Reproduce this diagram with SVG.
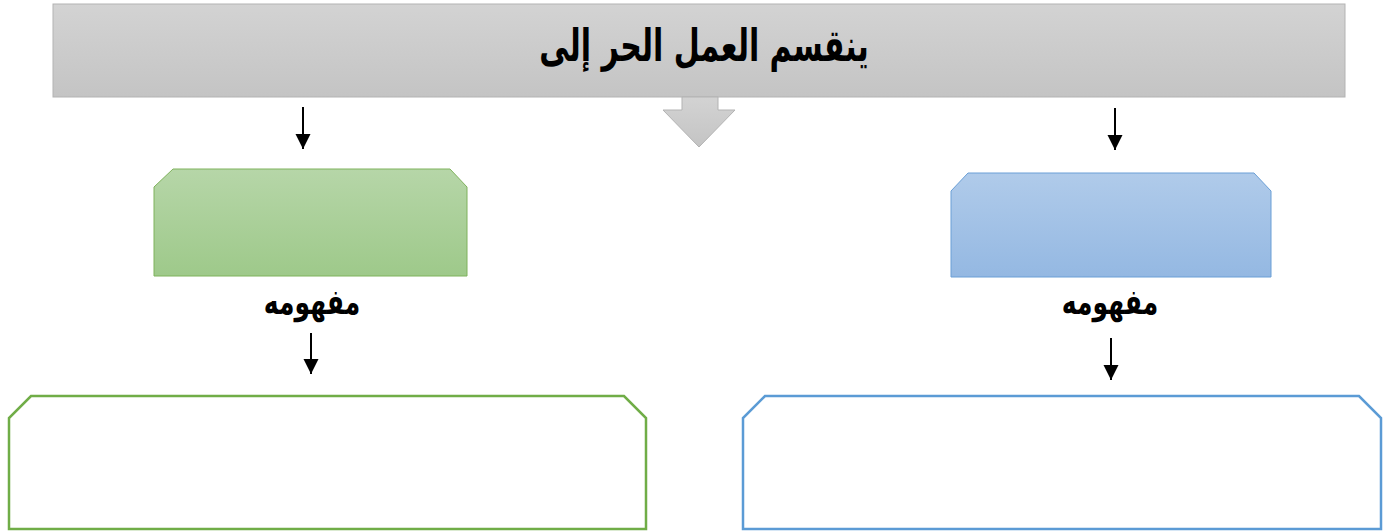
<svg xmlns="http://www.w3.org/2000/svg" width="1390" height="531" viewBox="0 0 1390 531">
<defs>
<linearGradient id="gGray" x1="0" y1="0" x2="0" y2="1"><stop offset="0" stop-color="#d3d3d3"/><stop offset="1" stop-color="#c4c4c4"/></linearGradient>
<linearGradient id="gGreen" x1="0" y1="0" x2="0" y2="1"><stop offset="0" stop-color="#b6d6a8"/><stop offset="1" stop-color="#9ec98a"/></linearGradient>
<linearGradient id="gBlue" x1="0" y1="0" x2="0" y2="1"><stop offset="0" stop-color="#b0cbea"/><stop offset="1" stop-color="#94b8e2"/></linearGradient>
<marker id="ah" viewBox="0 0 10 10" refX="10" refY="5" markerWidth="15" markerHeight="16" markerUnits="userSpaceOnUse" orient="auto"><path d="M0,0 L10,5 L0,10 Z" fill="#000"/></marker>
</defs>
<style>
.lbl{font-family:"DejaVu Sans",sans-serif;font-weight:bold;fill:#000;text-anchor:middle}
.conn{stroke:#000;stroke-width:2;fill:none;marker-end:url(#ah)}
</style>
<g id="title">
<rect x="53" y="4" width="1292" height="93" fill="url(#gGray)" stroke="#b3b3b3" stroke-width="1"/>
<text class="lbl" transform="translate(704,61) scale(1,1.5)" x="0" y="0" font-size="30" direction="rtl">ينقسم العمل الحر إلى</text>
</g>
<g id="bigArrow">
<path d="M682,97 L718,97 L718,110 L735,110 L699,147 L663,110 L682,110 Z" fill="url(#gGray)" stroke="#b3b3b3" stroke-width="1"/>
</g>
<g id="greenTop">
<path d="M173,169 L450,169 L467,187 L467,276 L154,276 L154,187 Z" fill="url(#gGreen)" stroke="#7fb25c" stroke-width="1"/>
</g>
<g id="blueTop">
<path d="M968,173 L1254,173 L1271,191 L1271,277 L951,277 L951,191 Z" fill="url(#gBlue)" stroke="#6a9fd6" stroke-width="1"/>
</g>
<g id="labelLeft"><text class="lbl" transform="translate(312,314) scale(1,1.4)" x="0" y="0" font-size="25" direction="rtl">مفهومه</text></g>
<g id="labelRight"><text class="lbl" transform="translate(1110,314) scale(1,1.4)" x="0" y="0" font-size="25" direction="rtl">مفهومه</text></g>
<g id="greenBottom">
<path d="M31,396 L624,396 L646,418 L646,529 L9,529 L9,418 Z" fill="#fff" stroke="#70ad47" stroke-width="2.5"/>
</g>
<g id="blueBottom">
<path d="M765,396 L1359,396 L1381,418 L1381,529 L743,529 L743,418 Z" fill="#fff" stroke="#5b9bd5" stroke-width="2.5"/>
</g>
<g id="connectors">
<line class="conn" x1="303" y1="107" x2="303" y2="149"/>
<line class="conn" x1="1115" y1="108" x2="1115" y2="150"/>
<line class="conn" x1="311" y1="333" x2="311" y2="374"/>
<line class="conn" x1="1111" y1="338" x2="1111" y2="380"/>
</g>
</svg>
